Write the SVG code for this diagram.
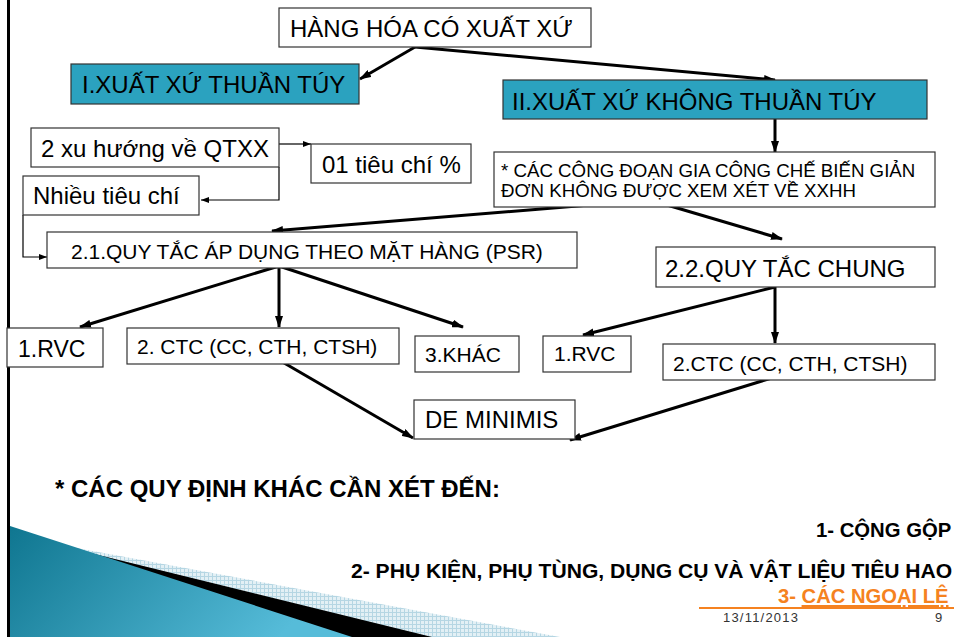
<svg xmlns="http://www.w3.org/2000/svg" width="954" height="637" viewBox="0 0 954 637">
<defs>
<style>
.box{fill:#fff;stroke:#333;stroke-width:1.2}
.teal{fill:#2ba2bf;stroke:#333;stroke-width:1.2}
.t{font-family:"Liberation Sans",Arial,sans-serif;fill:#000}
.c{stroke:#000;stroke-width:3;fill:none}
.thin{stroke:#000;stroke-width:1.2;fill:none}
.b{font-family:"Liberation Sans",Arial,sans-serif;font-weight:bold;fill:#000}
</style>
<marker id="ah" viewBox="0 0 12 8" refX="11" refY="4" markerWidth="12" markerHeight="8" markerUnits="userSpaceOnUse" orient="auto"><path d="M0,0 L12,4 L0,8 z" fill="#000"/></marker>
<marker id="as" viewBox="0 0 8 6" refX="8" refY="3" markerWidth="8" markerHeight="6" markerUnits="userSpaceOnUse" orient="auto"><path d="M0,0 L8,3 L0,6 z" fill="#000"/></marker>
<linearGradient id="tg" x1="0" y1="0" x2="1" y2="0.3">
<stop offset="0" stop-color="#0f7690"/>
<stop offset="1" stop-color="#56bcd9"/>
</linearGradient>
<pattern id="grid" width="4" height="4" patternUnits="userSpaceOnUse">
<rect width="4" height="4" fill="#e3f0f5"/>
<path d="M0,0.5 H4 M0.5,0 V4" stroke="#b5d6e3" stroke-width="1"/>
</pattern>
</defs>
<rect width="954" height="637" fill="#fff"/>

<g id="decoration">
<polygon points="60,545 560,637 10,637" fill="url(#grid)"/>
<polygon points="62,546 432,637 10,637" fill="#000"/>
<polygon points="10,526 352,637 10,637" fill="url(#tg)"/>
<line x1="8.5" y1="0" x2="8.5" y2="637" stroke="#000" stroke-width="3"/>
</g>

<g id="connectors">
<line class="c" x1="415" y1="47" x2="360" y2="79" marker-end="url(#ah)"/>
<line class="c" x1="415" y1="47" x2="775" y2="80" marker-end="url(#ah)"/>
<line class="c" x1="775" y1="119" x2="775" y2="152" marker-end="url(#ah)"/>
<line class="c" x1="650" y1="200" x2="272" y2="231" marker-end="url(#ah)"/>
<line class="c" x1="650" y1="200" x2="782" y2="239" marker-end="url(#ah)"/>
<line class="c" x1="279" y1="266" x2="80" y2="327" marker-end="url(#ah)"/>
<line class="c" x1="279" y1="266" x2="279" y2="327" marker-end="url(#ah)"/>
<line class="c" x1="279" y1="266" x2="463" y2="327" marker-end="url(#ah)"/>
<line class="c" x1="775" y1="287" x2="583" y2="335" marker-end="url(#ah)"/>
<line class="c" x1="775" y1="287" x2="775" y2="343" marker-end="url(#ah)"/>
<line class="c" x1="279" y1="360" x2="413" y2="438" marker-end="url(#ah)"/>
<line class="c" x1="775" y1="377" x2="570" y2="440" marker-end="url(#ah)"/>
<line class="thin" x1="279" y1="144" x2="311" y2="144" marker-end="url(#as)"/>
<polyline class="thin" points="279,167 279,200 201,200" marker-end="url(#as)"/>
<polyline class="thin" points="23,215 23,257 47,257" marker-end="url(#as)"/>
</g>

<g id="n-hang-hoa">
<rect class="box" x="279" y="8" width="312" height="39"/>
<text class="t" x="290" y="37" font-size="24">HÀNG HÓA CÓ XUẤT XỨ</text>
</g>
<g id="n-thuan-tuy">
<rect class="teal" x="71" y="64" width="288" height="40"/>
<text class="t" x="82" y="93" font-size="24">I.XUẤT XỨ THUẦN TÚY</text>
</g>
<g id="n-khong-thuan-tuy">
<rect class="teal" x="503" y="80" width="424" height="39"/>
<text class="t" x="512" y="110" font-size="24">II.XUẤT XỨ KHÔNG THUẦN TÚY</text>
</g>
<g id="n-cong-doan">
<rect class="box" x="494" y="152" width="441" height="55"/>
<text class="t" x="501" y="177" font-size="18.7">* CÁC CÔNG ĐOẠN GIA CÔNG CHẾ BIẾN GIẢN</text>
<text class="t" x="501" y="197" font-size="18.7">ĐƠN KHÔNG ĐƯỢC XEM XÉT VỀ XXHH</text>
</g>
<g id="n-2-xu-huong">
<rect class="box" x="31" y="128" width="248" height="39"/>
<text class="t" x="41" y="157" font-size="24">2 xu hướng về QTXX</text>
</g>
<g id="n-01-tieu-chi">
<rect class="box" x="311" y="144" width="160" height="39"/>
<text class="t" x="322" y="173" font-size="24">01 tiêu chí %</text>
</g>
<g id="n-nhieu-tieu-chi">
<rect class="box" x="23" y="176" width="176" height="39"/>
<text class="t" x="33" y="204" font-size="24">Nhiều tiêu chí</text>
</g>
<g id="n-psr">
<rect class="box" x="47" y="232" width="530" height="36"/>
<text class="t" x="71" y="259" font-size="21">2.1.QUY TẮC ÁP DỤNG THEO MẶT HÀNG (PSR)</text>
</g>
<g id="n-quy-tac-chung">
<rect class="box" x="656" y="247" width="279" height="40"/>
<text class="t" x="665" y="277" font-size="24">2.2.QUY TẮC CHUNG</text>
</g>
<g id="n-rvc-1">
<rect class="box" x="7" y="328" width="96" height="39"/>
<text class="t" x="18" y="357" font-size="23">1.RVC</text>
</g>
<g id="n-ctc-1">
<rect class="box" x="127" y="328" width="272" height="36"/>
<text class="t" x="137" y="354" font-size="21">2. CTC (CC, CTH, CTSH)</text>
</g>
<g id="n-khac">
<rect class="box" x="415" y="336" width="104" height="36"/>
<text class="t" x="425" y="362" font-size="21">3.KHÁC</text>
</g>
<g id="n-rvc-2">
<rect class="box" x="543" y="336" width="88" height="36"/>
<text class="t" x="554" y="361" font-size="21">1.RVC</text>
</g>
<g id="n-ctc-2">
<rect class="box" x="663" y="344" width="272" height="36"/>
<text class="t" x="673" y="371" font-size="21">2.CTC (CC, CTH, CTSH)</text>
</g>
<g id="n-de-minimis">
<rect class="box" x="414" y="400" width="161" height="39"/>
<text class="t" x="425" y="428" font-size="24">DE MINIMIS</text>
</g>

<g id="notes">
<text class="b" x="55" y="497" font-size="24">* CÁC QUY ĐỊNH KHÁC CẦN XÉT ĐẾN:</text>
<text class="b" x="816" y="537" font-size="20.3">1- CỘNG GỘP</text>
<text class="b" x="351" y="578" font-size="21.1">2- PHỤ KIỆN, PHỤ TÙNG, DỤNG CỤ VÀ VẬT LIỆU TIÊU HAO</text>
<text class="b" x="778" y="603" font-size="20.2" style="fill:#f58220">3- <tspan text-decoration="underline">CÁC NGOẠI LỆ</tspan></text>
</g>

<g id="footer">
<line x1="699" y1="608" x2="954" y2="608" stroke="#f58220" stroke-width="2"/>
<text x="723" y="622" font-family="'Liberation Sans',Arial,sans-serif" font-size="13" letter-spacing="1.2" fill="#333">13/11/2013</text>
<text x="935" y="622" font-family="'Liberation Sans',Arial,sans-serif" font-size="13" fill="#333">9</text>
</g>
</svg>
